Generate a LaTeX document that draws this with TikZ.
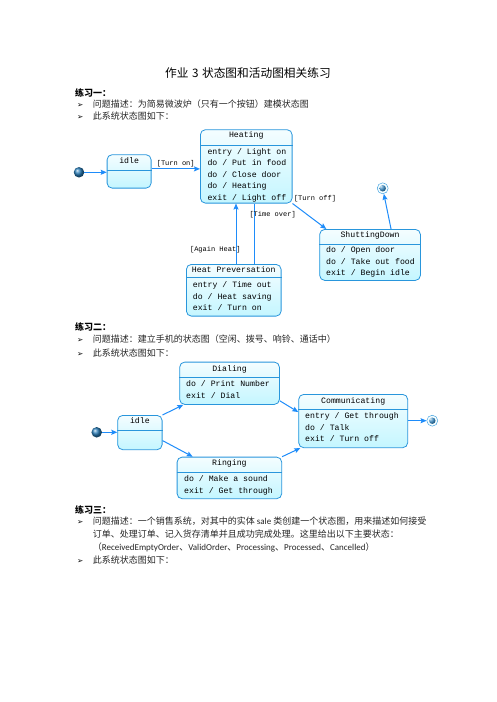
\documentclass[tikz,border=0pt]{standalone}
\usepackage{fontspec}
\setmainfont{Noto Sans CJK SC}
\newfontfamily\umlfont{Liberation Mono}
\newfontfamily\latinfont{Carlito}
\newfontfamily\dingfont{DejaVu Sans}
\usetikzlibrary{arrows.meta}

\definecolor{stateline}{RGB}{41,150,220}
\definecolor{statetop}{RGB}{244,253,255}
\definecolor{statebot}{RGB}{196,246,255}
\definecolor{arrowblue}{RGB}{30,140,250}
\definecolor{ballblue}{RGB}{40,125,185}

\tikzset{
	stbox/.style = {draw = stateline, line width = 0.8pt, rounded corners = 5pt,
		top color = statetop, bottom color = statebot, anchor = north west, inner sep = 0pt},
	stdiv/.style = {draw = stateline, line width = 0.8pt},
	sttitle/.style = {font = \umlfont\fontsize{8.2}{10}\selectfont, anchor = base, inner sep = 0pt},
	stbody/.style = {font = \umlfont\fontsize{8.2}{11.5}\selectfont, align = left,
		anchor = north west, inner sep = 0pt, execute at begin node = \strut},
	initst/.style = {circle, minimum size = 10.5pt, inner sep = 0pt, ball color = ballblue},
	finalst/.style = {circle, draw = stateline, fill = statetop, minimum size = 11pt, inner sep = 0pt,
		path picture = {\shade[ball color = ballblue] (path picture bounding box.center) circle (3.2pt);}},
	trans/.style = {draw = arrowblue, line width = 1pt, -{Stealth[length = 6pt, width = 5pt, inset = 1pt]}},
	transplain/.style = {draw = arrowblue, line width = 1pt},
	guard/.style = {font = \umlfont\fontsize{7}{8}\selectfont, inner sep = 1pt},
	doctitle/.style = {font = \fontsize{11.7}{14}\selectfont, anchor = base, inner sep = 0pt},
	sechead/.style = {font = \bfseries\fontsize{9}{11}\selectfont, anchor = base west, inner sep = 0pt},
	bullet/.style = {font = \dingfont\fontsize{7.5}{9}\selectfont, anchor = base west, inner sep = 0pt},
	bodytext/.style = {font = \fontsize{9}{11}\selectfont, anchor = base west, inner sep = 0pt, text = black!85}
}

\begin{document}
\begin{tikzpicture}[x = 1pt, y = -1pt]
\useasboundingbox[fill = white] (0, 0) rectangle (496, 702);

% page text
\node[doctitle] (ttl) at (248, 77.8) {作业\hspace{3.5pt}3\hspace{3.5pt}状态图和活动图相关练习};

\node[sechead] (sec1) at (75, 96.2) {练习一：};
\node[bullet] (b11) at (77, 107.8) {➢};
\node[bodytext] (t11) at (92.7, 107.8) {问题描述：为简易微波炉（只有一个按钮）建模状态图};
\node[bullet] (b12) at (77, 119.2) {➢};
\node[bodytext] (t12) at (92.7, 119.2) {此系统状态图如下：};

\node[sechead] (sec2) at (75, 330.2) {练习二：};
\node[bullet] (b21) at (77, 342.5) {➢};
\node[bodytext] (t21) at (92.7, 342.5) {问题描述：建立手机的状态图（空闲、拨号、响铃、通话中）};
\node[bullet] (b22) at (77, 356.2) {➢};
\node[bodytext] (t22) at (92.7, 356.2) {此系统状态图如下：};

\node[sechead] (sec3) at (75, 513.5) {练习三：};
\node[bullet] (b31) at (77, 524) {➢};
\node[bodytext] (t31) at (92.7, 524) {问题描述：一个销售系统，对其中的实体 {\latinfont sale} 类创建一个状态图，用来描述如何接受};
\node[bodytext] (t32) at (92.7, 537.8) {订单、处理订单、记入货存清单并且成功完成处理。这里给出以下主要状态：};
\node[bodytext] (t33) at (92.7, 550.8) {（{\latinfont ReceivedEmptyOrder}、{\latinfont ValidOrder}、{\latinfont Processing}、{\latinfont Processed}、{\latinfont Cancelled}）};
\node[bullet] (b34) at (77, 563.5) {➢};
\node[bodytext] (t34) at (92.7, 563.5) {此系统状态图如下：};

% microwave oven
\node[initst] (init1) at (79, 172.3) {};
\node[finalst] (fin1) at (382.7, 188.3) {};

\node[stbox, minimum width = 44pt, minimum height = 33.4pt] (idle1) at (106.7, 154.3) {};
\draw[stdiv] (idle1.west |- 0, 170) -- (idle1.east |- 0, 170);
\node[sttitle] at (idle1.north |- 0, 163.7) {idle};

\node[stbox, minimum width = 91.7pt, minimum height = 73.4pt] (heating) at (200, 129.3) {};
\draw[stdiv] (heating.west |- 0, 145.7) -- (heating.east |- 0, 145.7);
\node[sttitle] at (heating.north |- 0, 137.7) {Heating};
\node[stbody] at (207.3, 148.2) {entry / Light on\\do / Put in food\\do / Close door\\do / Heating\\exit / Light off};

\node[stbox, minimum width = 94.7pt, minimum height = 51.7pt] (preserve) at (186, 264) {};
\draw[stdiv] (preserve.west |- 0, 277.3) -- (preserve.east |- 0, 277.3);
\node[sttitle] at (preserve.north |- 0, 272.7) {Heat Preversation};
\node[stbody] at (192.7, 281.8) {entry / Time out\\do / Heat saving\\exit / Turn on};

\node[stbox, minimum width = 100.7pt, minimum height = 51pt] (shutdown) at (319.3, 229) {};
\draw[stdiv] (shutdown.west |- 0, 244.7) -- (shutdown.east |- 0, 244.7);
\node[sttitle] at (shutdown.north |- 0, 237.7) {ShuttingDown};
\node[stbody] at (326, 246.8) {do / Open door\\do / Take out food\\exit / Begin idle};

\draw[trans] (init1) -- (init1 -| idle1.west);
\draw[trans] ([yshift = 2.5pt]idle1.east) -- ([yshift = 2.5pt]idle1.east -| heating.west)
	node[guard, midway, above] {[Turn on]};
\draw[trans] (preserve.north -| 236, 0) -- (heating.south -| 236, 0)
	node[guard, pos = 0.23, anchor = east, xshift = 6pt] {[Again Heat]};
\draw[transplain] (heating.south -| 254.7, 0) -- (preserve.north -| 254.7, 0)
	node[guard, pos = 0.19, anchor = west, xshift = -6.7pt] {[Time over]};
\draw[trans] (heating.south east) -- ([xshift = 7pt]shutdown.north west)
	node[guard, pos = 0, anchor = south west] {[Turn off]};
\draw[trans] ([xshift = 21pt]shutdown.north) -- (fin1);

% mobile phone
\node[initst] (init2) at (96.7, 432.3) {};
\node[finalst] (fin2) at (432.3, 420.7) {};

\node[stbox, minimum width = 44.4pt, minimum height = 34.3pt] (idle2) at (117.3, 415) {};
\draw[stdiv] (idle2.west |- 0, 430.3) -- (idle2.east |- 0, 430.3);
\node[sttitle] at (idle2.north |- 0, 423.7) {idle};

\node[stbox, minimum width = 99.7pt, minimum height = 42.3pt] (dialing) at (179.3, 361.7) {};
\draw[stdiv] (dialing.west |- 0, 377.7) -- (dialing.east |- 0, 377.7);
\node[sttitle] at (dialing.north |- 0, 371) {Dialing};
\node[stbody] at (186, 380.8) {do / Print Number\\exit / Dial};

\node[stbox, minimum width = 109pt, minimum height = 53.3pt] (talking) at (298.3, 394) {};
\draw[stdiv] (talking.west |- 0, 409) -- (talking.east |- 0, 409);
\node[sttitle] at (talking.north |- 0, 403.4) {Communicating};
\node[stbody] at (305, 412.5) {entry / Get through\\do / Talk\\exit / Turn off};

\node[stbox, minimum width = 104.6pt, minimum height = 41.6pt] (ringing) at (176.7, 456.7) {};
\draw[stdiv] (ringing.west |- 0, 472.3) -- (ringing.east |- 0, 472.3);
\node[sttitle] at (ringing.north |- 0, 465.4) {Ringing};
\node[stbody] at (184, 475.8) {do / Make a sound\\exit / Get through};

\draw[trans] (init2) -- (init2 -| idle2.west);
\draw[trans] (idle2.north east) -- ([xshift = 4pt]dialing.south west);
\draw[trans] ([yshift = -8pt]idle2.east) -- ([xshift = 16pt]ringing.north west);
\draw[trans] ([yshift = 4pt]dialing.south east) -- ([yshift = 9pt]talking.west);
\draw[trans] (ringing.north east) -- ([xshift = 2pt]talking.south west);
\draw[trans] (talking.east |- fin2) -- (fin2);

\end{tikzpicture}
\end{document}
